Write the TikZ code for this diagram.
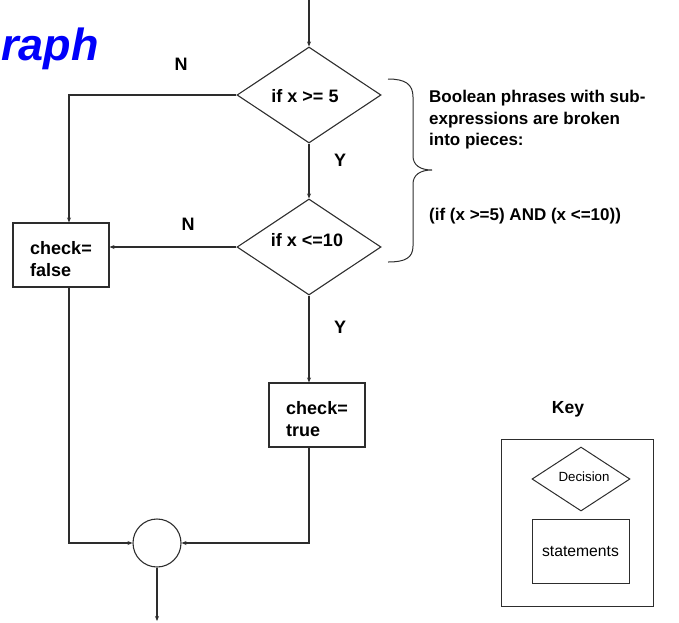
\documentclass[tikz,border=0pt]{standalone}
\usepackage{fontspec}
\setmainfont{Liberation Sans}
\usetikzlibrary{shapes.geometric,arrows.meta}
\definecolor{lineclr}{RGB}{45,45,45}
\definecolor{titleblue}{RGB}{0,0,250}
\begin{document}
\begin{tikzpicture}[x=1pt,y=-1pt,
 line/.style={draw=lineclr, line width=1.1pt},
 arr/.style={line, -{Stealth[length=5pt,width=4pt]}},
 dec/.style={diamond, draw=lineclr, line width=1.1pt, minimum width=144pt, minimum height=96pt, inner sep=0pt},
 stmt/.style={rectangle, draw=lineclr, line width=1.1pt, minimum width=96pt, minimum height=64pt, inner sep=0pt, text height=43pt, align=left, font=\fontsize{18}{22}\selectfont\bfseries},
 lbl/.style={font=\fontsize{18}{22}\selectfont\bfseries, inner sep=0pt},
 note/.style={font=\fontsize{17}{21.5}\selectfont\bfseries, inner sep=0pt, align=left, anchor=west}]
\useasboundingbox (0,0) rectangle (679,622);

\node[font=\fontsize{45}{45}\selectfont\bfseries\itshape, text=titleblue, anchor=base west, inner sep=0pt] (title) at (1,60) {raph};

\node[dec] (d1) at (309,95) {};
\node[lbl] (t1) at (305,96) {if x >= 5};
\node[dec] (d2) at (309,247) {};
\node[lbl] (t2) at (307,240) {if x <=10};
\node[stmt] (bf) at (61,255) {check=\\false};
\node[stmt] (bt) at (317,415) {check=\\true};
\node[circle, draw=lineclr, line width=1.1pt, minimum size=48pt, inner sep=0pt] (j) at (157,543) {};
\coordinate (top) at (309,0);
\coordinate (end) at (157,621);

\draw[arr] (top) -- (d1.north);
\draw[arr] (d1.west) -| ([xshift=8pt]bf.north);
\draw[arr] (d1.south) -- (d2.north);
\draw[arr] (d2.west) -- (d2.west -| bf.east);
\draw[arr] (d2.south) -- ([xshift=-8pt]bt.north);
\draw[arr] ([xshift=8pt]bf.south) |- (j.west);
\draw[arr] ([xshift=-8pt]bt.south) |- (j.east);
\draw[arr] (j.south) -- (end);

\node[lbl] (n1) at (181,64) {N};
\node[lbl] (n2) at (188,224) {N};
\node[lbl] (y1) at (340,160) {Y};
\node[lbl] (y2) at (340,327) {Y};

% brace
\draw[line, line width=1pt] (388,79) .. controls (405,79) and (413,84) .. (413,97) -- (413,156)
  .. controls (413,165) and (420,170) .. (432,170)
  .. controls (420,170) and (413,175) .. (413,184) -- (413,246)
  .. controls (413,258) and (405,262) .. (388,262);

\node[note] (b1) at (429,120) {Boolean phrases with sub-\\expressions are broken\\into pieces:};
\node[note] (b2) at (429,216) {(if (x >=5) AND (x <=10))};

% key
\node[lbl, font=\fontsize{17.5}{20}\selectfont\bfseries] (key) at (568,409) {Key};
\draw[line, line width=1pt] (501,439) rectangle (653,606);
\node[diamond, draw=lineclr, line width=1pt, minimum width=98pt, minimum height=64pt, inner sep=0pt] (kd) at (581,479) {};
\node[font=\fontsize{13.3}{15}\selectfont, inner sep=0pt] (kdt) at (584,477) {Decision};
\node[rectangle, draw=lineclr, line width=1pt, minimum width=97pt, minimum height=64pt, inner sep=0pt, font=\fontsize{15.7}{18}\selectfont] (ks) at (580.5,551) {statements};
\end{tikzpicture}
\end{document}
